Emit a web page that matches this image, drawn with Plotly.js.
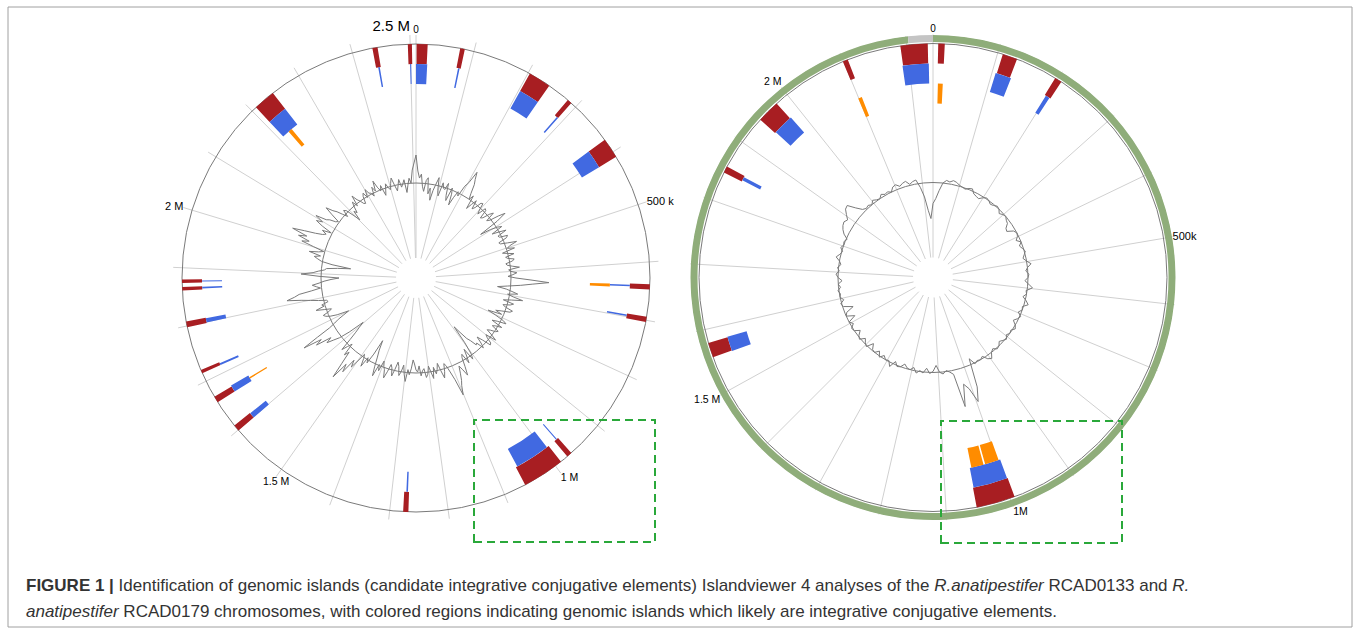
<!DOCTYPE html>
<html><head><meta charset="utf-8">
<script src="https://cdn.plot.ly/plotly-3.0.1.min.js"></script>
<style>html,body{margin:0;padding:0;background:#fff}#chart{width:1360px;height:633px}</style>
</head><body><div id="chart"></div>
<script>
// ---------------- DATA (positions in kb) ----------------
const genomeLenLeft = 2510;   // R. anatipestifer RCAD0133 (kb)
const genomeLenRight = 2240;  // R. anatipestifer RCAD0179 (kb)

// spoke ticks every 100 kb
const leftSpokes = [0,100,200,300,400,500,600,700,800,900,1000,1100,1200,1300,1400,1500,1600,1700,1800,1900,2000,2100,2200,2300,2400,2500];
const rightSpokes = [0,100,200,300,400,500,600,700,800,900,1000,1100,1200,1300,1400,1500,1600,1700,1800,1900,2000,2100,2200];

// tick labels
const leftLabelPos = [0, 500, 1000, 1500, 2000, 2500];
const leftLabelText = ['0', '500 k', '1 M', '1.5 M', '2 M', '2.5 M'];
const rightLabelPos = [0, 500, 1000, 1500, 2000];
const rightLabelText = ['0', '500k', '1M', '1.5 M', '2 M'];

// genomic islands, left chromosome
const leftRedStart  = [2435, 2496, 1, 76, 203, 282, 375, 2209, 638, 694, 988, 965, 1268, 1599, 1659, 1715, 1798, 1874, 1861];
const leftRedEnd    = [2444, 2503, 20, 84, 242, 290, 410, 2247, 647, 703, 1061, 974, 1277, 1610, 1670, 1721, 1808, 1880, 1867];
const leftBlueStart = [2439, 2499, 0, 79, 203, 287, 375, 2209, 640, 696, 992, 968, 1270, 1599, 1659, 1715, 1799, 1876, 1863];
const leftBlueEnd   = [2442, 2501, 21, 82, 242, 290, 410, 2247, 643, 699, 1058, 970, 1273, 1609, 1672, 1719, 1807, 1878, 1866];
const leftOrangeStart = [2224, 639, 1665];
const leftOrangeEnd   = [2232, 645, 1668];

// genomic islands, right chromosome
const rightRedStart  = [2190, 8, 108, 196, 2099, 1944, 1846, 1556, 993];
const rightRedEnd    = [2232, 18, 131, 207, 2107, 1979, 1856, 1579, 1053];
const rightBlueStart = [2189, 106, 198, 1946, 1848, 1555, 994];
const rightBlueEnd   = [2233, 133, 205, 1981, 1854, 1580, 1052];
const rightOrangeStart = [9, 2099, 1026, 997];
const rightOrangeEnd   = [18, 2106, 1049, 1023];

// contig ring (right chromosome)
const rightContigStart = [0];
const rightContigEnd = [2203];
const rightGapStart = [2203];
const rightGapEnd = [2240];

// GC content deviation profile, sampled at equal steps round each chromosome
const gcLeft = [
 28,12,5,9,-3,-8,3,6,-10,-4,-16,-6,1,8,-5,-10,4,-1,-2,5,-7,-12,2,-4,-15,-6,1,-3,9,14,27,20,15,6,0,5,-9,-3,3,-6,-3,4,5,-2,-6,3,2,-7,-5,2,6,-4,-1,8,15,4,-17,-6,1,5,-7,0,7,-3,-2,6,4,-5,-4,3,12,4,1,8,-5,0,6,-3,-1,5,3,-4,-3,2,9,-2,0,6,2,-3,
 5,20,38,22,10,-3,-13,-4,2,8,-2,4,14,3,-5,6,3,-4,-1,7,5,-3,-9,-2,-16,-7,2,6,-3,-8,4,-2,-5,3,1,-4,-7,0,6,-5,-2,4,5,-4,-10,-3,2,-6,-5,-12,-16,-25,-33,-14,-1,4,-9,-2,5,-6,-3,6,15,8,3,10,17,22,31,14,5,-2,-5,3,9,1,-7,-1,3,-4,7,0,-6,2,5,-4,-2,3,-7,-1,
 -3,-9,-13,-4,2,-3,9,2,-7,0,4,-5,-9,-1,6,-2,-5,3,10,2,-1,-6,5,-1,12,3,-7,-14,-24,-8,3,-2,9,1,-3,6,15,8,24,16,34,18,5,10,-3,2,8,-5,-14,-20,-26,-9,2,8,15,9,25,18,37,20,5,-2,-7,-14,-20,-8,-1,3,5,-2,-5,2,10,1,3,-4,-3,5,13,22,36,28,23,10,1,5,9,2,-3,-10,
 -18,2,20,8,3,-3,-5,-16,-29,-10,1,5,9,3,15,6,1,12,25,18,30,22,38,26,15,8,5,10,1,12,20,14,23,12,9,3,1,10,19,12,8,2,-3,4,2,-6,-14,-4,-7,-1,4,-2,9,3,0,-4,-5,2,5,-1,7,2,1,-3,6,1,11,3,-1,4,-7,-2,4,-1,-3,3,8,0,-6,-1,5,-3,0,4,-9,-2,5,0,13,20
];
const gcRight = [
 -21,-16,-8,0,3,2,4,3,1,0,-1,1,2,-2,-3,-4,-1,1,0,-2,-1,1,0,-3,-1,0,-2,-3,-7,-8,-2,0,-1,-4,0,-3,-1,1,-1,-3,0,4,0,-2,1,
 0,-3,1,5,-1,0,-3,1,4,-1,0,-3,1,-1,-4,0,2,-1,0,-2,1,-1,-3,0,1,-2,0,5,3,-2,0,-1,1,-6,23,37,22,16,38,4,1,-1,2,0,-7,
 -1,1,-4,1,-1,2,-3,0,-1,-4,0,1,-3,4,-1,0,-3,1,-4,0,-1,-6,1,-1,-4,1,-1,-5,0,1,-3,0,-8,0,-2,-10,-1,1,-3,0,-1,1,-2,0,-4,
 0,2,-1,1,-2,0,4,1,-1,2,0,1,-1,4,7,9,10,8,12,16,17,9,3,1,2,0,3,1,0,3,1,2,0,4,5,2,4,5,1,3,4,-4,-14,-28,-36
];

// ---------------- STYLE / GEOMETRY ----------------
const W = 1360, H = 633;
const R = 243;               // polar radius in px (range max)
const HOLE = 20;
const GC_BASE = 95;
const OUTER = 234;
const TRACK = {red: [214, 234], blue: [194, 214], orange: [174, 194]};
const COL = {red: '#a81e22', blue: '#4169e1', orange: '#ff8c00', green: '#8fad7a', gap: '#c4c4c4'};
const FONT = 'Liberation Sans, Arial, sans-serif';

const deg = (kb, L) => kb / L * 360;

function islandTrace(starts, ends, L, band, color, sub) {
  return {
    type: 'barpolar', subplot: sub,
    theta: starts.map((s, i) => deg((s + ends[i]) / 2, L)),
    width: starts.map((s, i) => deg(ends[i] - s, L)),
    base: starts.map(() => band[0]),
    r: starts.map(() => band[1] - band[0]),
    marker: {color: color, line: {width: 0}},
    hoverinfo: 'skip', showlegend: false
  };
}

function gcTrace(vals, sub) {
  const n = vals.length;
  const th = vals.map((v, i) => i * 360 / n);
  const r = vals.map(v => GC_BASE + v);
  th.push(360); r.push(r[0]);
  return {type: 'scatterpolar', subplot: sub, mode: 'lines', theta: th, r: r,
    line: {color: '#7a7a7a', width: 1}, hoverinfo: 'skip', showlegend: false};
}

function labelTrace(pos, text, L, positions, sizes, sub) {
  return {type: 'scatterpolar', subplot: sub, mode: 'text',
    theta: pos.map(p => deg(p, L)), r: pos.map(() => R),
    text: text, textposition: positions, cliponaxis: false,
    textfont: {family: FONT, size: sizes, color: '#000000'},
    hoverinfo: 'skip', showlegend: false};
}

function polarLayout(cx, cy, spokes, L) {
  const cyb = H - cy;
  return {
    domain: {x: [(cx - R) / W, (cx + R) / W], y: [(cyb - R) / H, (cyb + R) / H]},
    hole: HOLE / R,
    bgcolor: 'rgba(0,0,0,0)',
    barmode: 'overlay',
    radialaxis: {range: [HOLE, R], tickvals: [GC_BASE, OUTER], showgrid: true, gridcolor: '#7a7a7a', gridwidth: 1,
      showticklabels: false, ticks: '', showline: false},
    angularaxis: {rotation: 90, direction: 'clockwise', thetaunit: 'degrees',
      tickvals: spokes.map(s => deg(s, L)), showgrid: true, gridcolor: '#d0d0d0', gridwidth: 1,
      showticklabels: false, ticks: '', showline: false}
  };
}

const traces = [
  // left chromosome
  gcTrace(gcLeft, 'polar'),
  islandTrace(leftRedStart, leftRedEnd, genomeLenLeft, TRACK.red, COL.red, 'polar'),
  islandTrace(leftBlueStart, leftBlueEnd, genomeLenLeft, TRACK.blue, COL.blue, 'polar'),
  islandTrace(leftOrangeStart, leftOrangeEnd, genomeLenLeft, TRACK.orange, COL.orange, 'polar'),
  labelTrace(leftLabelPos, leftLabelText, genomeLenLeft,
    ['top center', 'middle right', 'bottom right', 'bottom center', 'middle left', 'top left'],
    [10, 11, 10.5, 10.5, 11, 15], 'polar'),
  // right chromosome
  islandTrace(rightContigStart, rightContigEnd, genomeLenRight, [235.5, 242.5], COL.green, 'polar2'),
  islandTrace(rightGapStart, rightGapEnd, genomeLenRight, [235.5, 242.5], COL.gap, 'polar2'),
  gcTrace(gcRight, 'polar2'),
  islandTrace(rightRedStart, rightRedEnd, genomeLenRight, TRACK.red, COL.red, 'polar2'),
  islandTrace(rightBlueStart, rightBlueEnd, genomeLenRight, TRACK.blue, COL.blue, 'polar2'),
  islandTrace(rightOrangeStart, rightOrangeEnd, genomeLenRight, TRACK.orange, COL.orange, 'polar2'),
  labelTrace(rightLabelPos, rightLabelText, genomeLenRight,
    ['top center', 'middle right', 'bottom right', 'bottom left', 'top left'],
    [10, 11, 10.5, 10.5, 10.5], 'polar2')
];

const px = x => x / W, py = y => 1 - y / H;
const dashRect = (x0, y0, x1, y1) => ({type: 'rect', xref: 'paper', yref: 'paper',
  x0: px(x0), x1: px(x1), y0: py(y1), y1: py(y0),
  line: {color: '#2aa83a', width: 2, dash: '8px,5px'}, fillcolor: 'rgba(0,0,0,0)'});

const layout = {
  width: W, height: H,
  margin: {l: 0, r: 0, t: 0, b: 0},
  paper_bgcolor: '#ffffff',
  showlegend: false,
  polar: polarLayout(416, 278, leftSpokes, genomeLenLeft),
  polar2: polarLayout(933, 277.5, rightSpokes, genomeLenRight),
  shapes: [
    {type: 'rect', xref: 'paper', yref: 'paper', x0: px(8), x1: px(1352), y0: py(627), y1: py(7),
      line: {color: '#a0a0a0', width: 1}, fillcolor: 'rgba(0,0,0,0)'},
    dashRect(474, 420, 655, 542),
    dashRect(941, 421, 1122, 543)
  ],
  annotations: [
    {xref: 'paper', yref: 'paper', x: px(24), y: py(585), xanchor: 'left', yanchor: 'middle', showarrow: false, align: 'left',
      text: '<b>FIGURE 1 |</b> Identification of genomic islands (candidate integrative conjugative elements) Islandviewer 4 analyses of the <i>R.anatipestifer</i> RCAD0133 and <i>R.</i>',
      font: {family: FONT, size: 17, color: '#333333'}},
    {xref: 'paper', yref: 'paper', x: px(24), y: py(611), xanchor: 'left', yanchor: 'middle', showarrow: false, align: 'left',
      text: '<i>anatipestifer</i> RCAD0179 chromosomes, with colored regions indicating genomic islands which likely are integrative conjugative elements.',
      font: {family: FONT, size: 17, color: '#333333'}}
  ]
};

Plotly.newPlot('chart', traces, layout, {staticPlot: true, displayModeBar: false});
</script>
</body></html>
